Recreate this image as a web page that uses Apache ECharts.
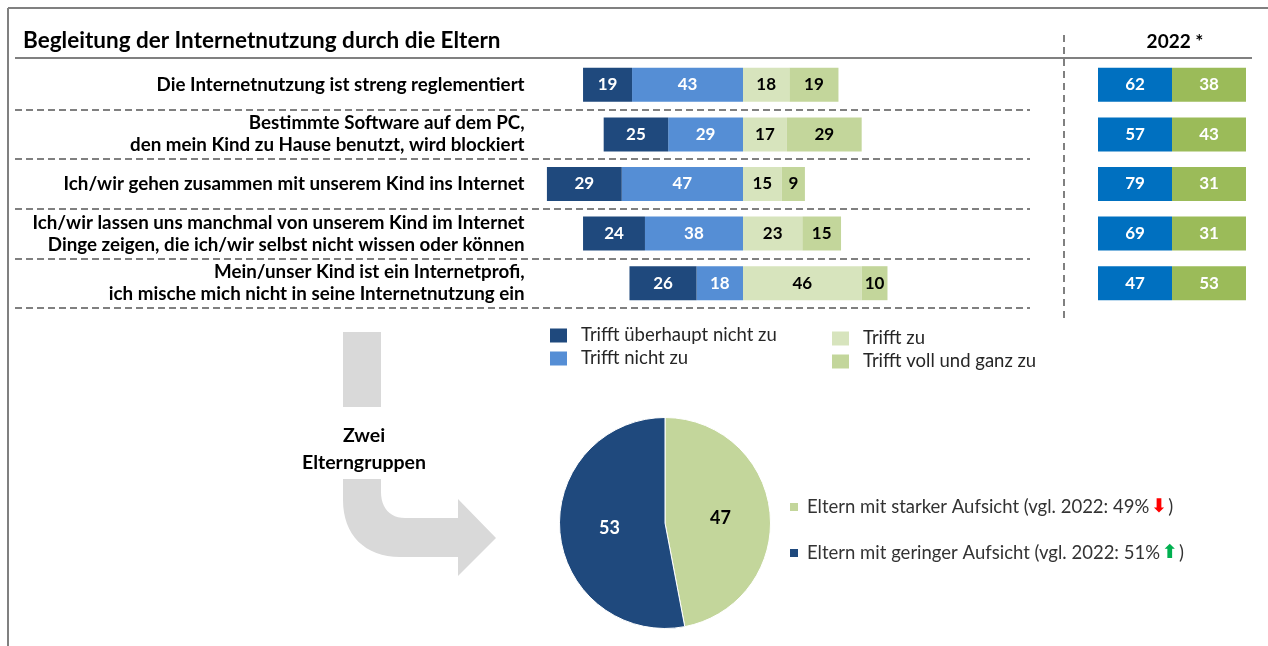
<!DOCTYPE html>
<html>
<head>
<meta charset="utf-8">
<script src="https://cdn.jsdelivr.net/npm/echarts@6/dist/echarts.min.js"></script>
<style>
html,body{margin:0;padding:0;background:#fff;}
#c{width:1268px;height:646px;}
</style>
</head>
<body>
<div id="c"></div>
<script>
const categories = [
  'Die Internetnutzung ist streng reglementiert',
  'Bestimmte Software auf dem PC,\nden mein Kind zu Hause benutzt, wird blockiert',
  'Ich/wir gehen zusammen mit unserem Kind ins Internet',
  'Ich/wir lassen uns manchmal von unserem Kind im Internet\nDinge zeigen, die ich/wir selbst nicht wissen oder können',
  'Mein/unser Kind ist ein Internetprofi,\nich mische mich nicht in seine Internetnutzung ein'
];
const seriesNames = ['Trifft überhaupt nicht zu', 'Trifft nicht zu', 'Trifft zu', 'Trifft voll und ganz zu'];
const ueberhauptNicht = [19, 25, 29, 24, 26];
const nicht = [43, 29, 47, 38, 18];
const zu = [18, 17, 15, 23, 46];
const vollUndGanz = [19, 29, 9, 15, 10];
const werte2022Blau = [62, 57, 79, 69, 47];
const werte2022Gruen = [38, 43, 31, 31, 53];
const pieNames = ['Eltern mit starker Aufsicht', 'Eltern mit geringer Aufsicht'];
const pieValues = [47, 53];
const pieVorjahr = [49, 51];

const FONT = 'Lato, "Open Sans", sans-serif';
const chart = echarts.init(document.getElementById('c'), null, {renderer: 'canvas'});

const barLabel = (color) => ({
  show: true, position: 'inside', color: color, fontSize: 17, fontWeight: 'bold', fontFamily: FONT,
  formatter: p => Math.abs(p.value)
});
const neg = arr => arr.map(v => -v);

// decorative bent arrow outline (sampled bezier corners)
function bez(p0, p1, p2, p3, n) {
  const out = [];
  for (let k = 1; k <= n; k++) {
    const t = k / n, u = 1 - t;
    out.push([
      u*u*u*p0[0] + 3*u*u*t*p1[0] + 3*u*t*t*p2[0] + t*t*t*p3[0],
      u*u*u*p0[1] + 3*u*u*t*p1[1] + 3*u*t*t*p2[1] + t*t*t*p3[1]
    ]);
  }
  return out;
}
const arrowPts = [[343, 479], [381, 479], [381, 492]]
  .concat(bez([381, 492], [381, 508], [390, 518], [405, 518], 12))
  .concat([[458, 518], [458, 499], [496, 538], [458, 576], [458, 557], [400, 557]])
  .concat(bez([400, 557], [365, 557], [343, 535], [343, 500], 16));

const pieData = pieNames.map((n, i) => ({
  name: n, value: pieValues[i],
  itemStyle: {color: i === 0 ? '#C3D69B' : '#1F497D'},
  label: {color: i === 0 ? '#000' : '#fff'}
}));

const legendText = {fontSize: 18.5, color: '#262626', fontFamily: FONT, padding: [0, 0, 0, 9], lineHeight: 21};

const option = {
  animation: false,
  textStyle: {fontFamily: FONT},
  title: {
    text: 'Begleitung der Internetnutzung durch die Eltern',
    left: 18, top: 24,
    textStyle: {fontSize: 22.5, fontWeight: 'bold', color: '#000', fontFamily: FONT}
  },
  grid: [
    {left: 536.6, width: 412.8, top: 60, height: 248},
    {left: 1098, width: 148, top: 60, height: 248},
    {left: 15, width: 1015, top: 60, height: 248}
  ],
  xAxis: [
    {type: 'value', gridIndex: 0, min: -80, max: 80, show: false},
    {type: 'category', gridIndex: 1, data: ['blau', 'gruen'], show: false},
    {type: 'value', gridIndex: 2, min: 0, max: 1, show: false}
  ],
  yAxis: [
    {type: 'category', gridIndex: 0, data: categories, inverse: true,
     axisLine: {show: false}, axisTick: {show: false}, splitLine: {show: false},
     axisLabel: {margin: 12, fontSize: 18.75, fontWeight: 'bold', color: '#000', fontFamily: FONT, lineHeight: 22, align: 'right'}},
    {type: 'category', gridIndex: 1, data: categories, inverse: true, show: false},
    {type: 'category', gridIndex: 2, data: categories, inverse: true,
     axisLine: {show: false}, axisTick: {show: false}, axisLabel: {show: false},
     splitLine: {show: true, showMinLine: false, lineStyle: {type: [7, 4], color: '#808080', width: 2}}}
  ],
  legend: [
    {data: [seriesNames[0], seriesNames[1]], orient: 'vertical', left: 545, top: 320,
     itemWidth: 17, itemHeight: 14, itemGap: 2, icon: 'rect', selectedMode: false, textStyle: legendText},
    {data: [seriesNames[2], seriesNames[3]], orient: 'vertical', left: 827, top: 323,
     itemWidth: 17, itemHeight: 14, itemGap: 2, icon: 'rect', selectedMode: false, textStyle: legendText},
    {data: pieNames, orient: 'vertical', left: 783, top: 491, itemGap: 24,
     itemWidth: 10, itemHeight: 10, icon: 'rect', selectedMode: false,
     formatter: name => {
       const i = pieNames.indexOf(name);
       const arrow = pieValues[i] < pieVorjahr[i] ? '{dn|⬇}' : '{up|⬆}';
       return '{t|' + name + ' (vgl. 2022: ' + pieVorjahr[i] + '%}' + arrow + '{t|)}';
     },
     textStyle: {fontSize: 18.5, color: '#333', fontFamily: FONT, padding: [0, 0, 0, 3], lineHeight: 22,
       rich: {
         t: {fontSize: 18.5, color: '#333', fontFamily: FONT, lineHeight: 22},
         dn: {fontSize: 19, color: '#FF0000', fontFamily: '"DejaVu Sans"', padding: [0, 1, 0, 2], fontWeight: 'bold', lineHeight: 22},
         up: {fontSize: 19, color: '#00B050', fontFamily: '"DejaVu Sans"', padding: [0, 1, 0, 2], fontWeight: 'bold', lineHeight: 22}
       }}}
  ],
  series: [
    {name: seriesNames[1], type: 'bar', stack: 's', barWidth: 34, data: neg(nicht),
     itemStyle: {color: '#558ED5'}, label: barLabel('#fff')},
    {name: seriesNames[0], type: 'bar', stack: 's', barWidth: 34, data: neg(ueberhauptNicht),
     itemStyle: {color: '#1F497D'}, label: barLabel('#fff')},
    {name: seriesNames[2], type: 'bar', stack: 's', barWidth: 34, data: zu,
     itemStyle: {color: '#D7E4BD'}, label: barLabel('#000')},
    {name: seriesNames[3], type: 'bar', stack: 's', barWidth: 34, data: vollUndGanz,
     itemStyle: {color: '#C3D69B'}, label: barLabel('#000')},
    {name: '2022 blau', type: 'scatter', xAxisIndex: 1, yAxisIndex: 1, symbol: 'rect', symbolSize: [74, 34],
     data: werte2022Blau.map((v, i) => [0, i, v]), itemStyle: {color: '#0070C0', opacity: 1},
     label: {show: true, position: 'inside', color: '#fff', fontSize: 17, fontWeight: 'bold', fontFamily: FONT, formatter: p => p.value[2]}},
    {name: '2022 gruen', type: 'scatter', xAxisIndex: 1, yAxisIndex: 1, symbol: 'rect', symbolSize: [74, 34],
     data: werte2022Gruen.map((v, i) => [1, i, v]), itemStyle: {color: '#9BBB59', opacity: 1},
     label: {show: true, position: 'inside', color: '#fff', fontSize: 17, fontWeight: 'bold', fontFamily: FONT, formatter: p => p.value[2]}},
    {name: 'Elterngruppen', type: 'pie', center: [665, 523], radius: 105.5, startAngle: 90, clockwise: true,
     data: pieData, itemStyle: {borderColor: '#fff', borderWidth: 1},
     label: {show: true, position: 'inside', fontSize: 18, fontWeight: 'bold', fontFamily: FONT, formatter: '{c}'},
     labelLine: {show: false}, emphasis: {disabled: true}}
  ],
  graphic: [
    {type: 'line', shape: {x1: 8, y1: 8, x2: 1268, y2: 8}, style: {stroke: '#808080', lineWidth: 2}},
    {type: 'line', shape: {x1: 8, y1: 8, x2: 8, y2: 646}, style: {stroke: '#808080', lineWidth: 2}},
    {type: 'line', shape: {x1: 15, y1: 58, x2: 1252, y2: 58}, style: {stroke: '#808080', lineWidth: 2}},
    {type: 'line', shape: {x1: 1064, y1: 35, x2: 1064, y2: 320}, style: {stroke: '#808080', lineWidth: 2, lineDash: [7, 5]}},
    {type: 'text', style: {text: '2022 *', x: 1175, y: 42, align: 'center', verticalAlign: 'middle', font: 'bold 19px ' + FONT, fill: '#000'}},
    {type: 'rect', shape: {x: 343, y: 332, width: 38, height: 75}, style: {fill: '#D9D9D9'}},
    {type: 'polygon', shape: {points: arrowPts}, style: {fill: '#D9D9D9'}},
    {type: 'text', style: {text: 'Zwei', x: 364, y: 436, align: 'center', verticalAlign: 'middle', font: 'bold 19.5px ' + FONT, fill: '#000'}},
    {type: 'text', style: {text: 'Elterngruppen', x: 364, y: 463, align: 'center', verticalAlign: 'middle', font: 'bold 19.5px ' + FONT, fill: '#000'}}
  ]
};
chart.setOption(option);
</script>
</body>
</html>
